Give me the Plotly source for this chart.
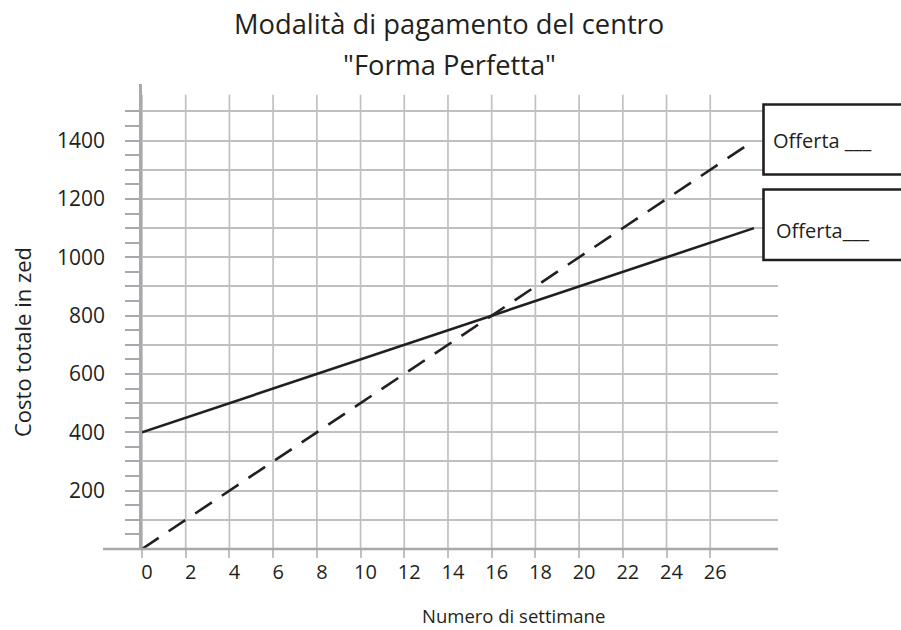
import plotly.graph_objects as go

# Weekly total cost of the two payment plans (weeks -> cost in zed)
weeks = [0, 28]
offer_fixed_fee = [400, 1100]     # 400 zed sign-up + 25 zed per week
offer_per_week = [0, 1400]        # 50 zed per week, no sign-up fee

x_tick_vals = [0, 2, 4, 6, 8, 10, 12, 14, 16, 18, 20, 22, 24, 26]
y_grid_vals = [100, 200, 300, 400, 500, 600, 700, 800, 900, 1000, 1100, 1200, 1300, 1400, 1500]
y_label_vals = [200, 400, 600, 800, 1000, 1200, 1400]
y_minor_vals = [50, 150, 250, 350, 450, 550, 650, 750, 850, 950, 1050, 1150, 1250, 1350, 1450]

title_lines = ["Modalità di pagamento del centro", "\"Forma Perfetta\""]
x_title = "Numero di settimane"
y_title = "Costo totale in zed"
box_labels = ["Offerta ___", "Offerta___"]

FONT = "Open Sans"
INK = "#231f20"
GRID = "#bfc0c2"
AXIS = "#a7a9ac"

W, H = 901, 630
L, R, T, B = 142, 123, 84, 81
X_MAX = 29.1
Y_MAX = 1594
GRID_TOP = 1557

fig = go.Figure()

fig.add_trace(go.Scatter(
    x=weeks, y=offer_fixed_fee, mode="lines",
    line=dict(color=INK, width=2.6), hoverinfo="skip", showlegend=False,
))
fig.add_trace(go.Scatter(
    x=weeks, y=offer_per_week, mode="lines",
    line=dict(color=INK, width=2.6, dash="20px,12px"), hoverinfo="skip", showlegend=False,
))

shapes = []
# vertical grid lines (stop a little short of the top of the y axis)
for xv in x_tick_vals:
    shapes.append(dict(type="line", xref="x", yref="y", x0=xv, x1=xv, y0=0, y1=GRID_TOP,
                       line=dict(color=GRID, width=1.7), layer="below"))
# x axis line, running a bit to the left of the y axis
shapes.append(dict(type="line", xref="paper", yref="paper", x0=-(L - 103) / (W - L - R), x1=1,
                   y0=0, y1=0, line=dict(color=AXIS, width=2.6), layer="above"))

plot_h = H - T - B
plot_w = W - L - R


def py(px):
    return (H - B - px) / plot_h


def pxx(px):
    return (px - L) / plot_w


# boxes for the offer labels
box_rows = [(104.5, 174.5), (189.5, 260)]
for top, bot in box_rows:
    shapes.append(dict(type="rect", xref="paper", yref="paper",
                       x0=pxx(763.5), x1=pxx(920), y0=py(bot), y1=py(top),
                       fillcolor="white", line=dict(color=INK, width=2.6), layer="above"))

annotations = []
for txt, lx, cy in zip(box_labels, [771, 774], [140, 230]):
    annotations.append(dict(text=txt, xref="paper", yref="paper", x=pxx(lx), y=py(cy),
                            xanchor="left", yanchor="middle", showarrow=False,
                            font=dict(family=FONT, size=20, color=INK)))

annotations.append(dict(text=x_title, xref="paper", yref="paper", x=pxx(513), y=py(615),
                        xanchor="center", yanchor="middle", showarrow=False,
                        font=dict(family=FONT, size=18.5, color=INK)))
annotations.append(dict(text=y_title, xref="paper", yref="paper", x=pxx(22), y=py(342),
                        xanchor="center", yanchor="middle", showarrow=False, textangle=-90,
                        font=dict(family=FONT, size=22, color=INK)))
for txt, cy in zip(title_lines, [24, 64]):
    annotations.append(dict(text=txt, xref="paper", yref="paper", x=pxx(449), y=py(cy),
                            xanchor="center", yanchor="middle", showarrow=False,
                            font=dict(family=FONT, size=27.3, color=INK)))

fig.update_layout(
    width=W, height=H,
    margin=dict(l=L, r=R, t=T, b=B, pad=0),
    paper_bgcolor="white", plot_bgcolor="white",
    shapes=shapes, annotations=annotations,
    font=dict(family=FONT, color=INK),
)

fig.update_xaxes(
    range=[0, X_MAX], showgrid=False, zeroline=False, showline=False,
    tickmode="array", tickvals=x_tick_vals, ticktext=[str(v) for v in x_tick_vals],
    ticks="outside", ticklen=8, tickwidth=1.7, tickcolor=GRID,
    tickfont=dict(family=FONT, size=20, color=INK), ticklabelshift=5, ticklabelstandoff=-3,
)
fig.update_yaxes(
    range=[0, Y_MAX], zeroline=False,
    showline=True, linecolor=AXIS, linewidth=2.6,
    tickmode="array", tickvals=y_grid_vals,
    ticktext=[str(v) if v in y_label_vals else "" for v in y_grid_vals],
    showgrid=True, gridcolor=GRID, gridwidth=1.7,
    ticks="outside", ticklen=14, tickwidth=2.4, tickcolor=AXIS,
    tickfont=dict(family=FONT, size=21, color=INK), ticklabelstandoff=16,
    minor=dict(tickmode="array", tickvals=y_minor_vals, ticks="outside", ticklen=14,
               tickwidth=2.4, tickcolor=AXIS, showgrid=False),
)

fig.write_html("out.html")
